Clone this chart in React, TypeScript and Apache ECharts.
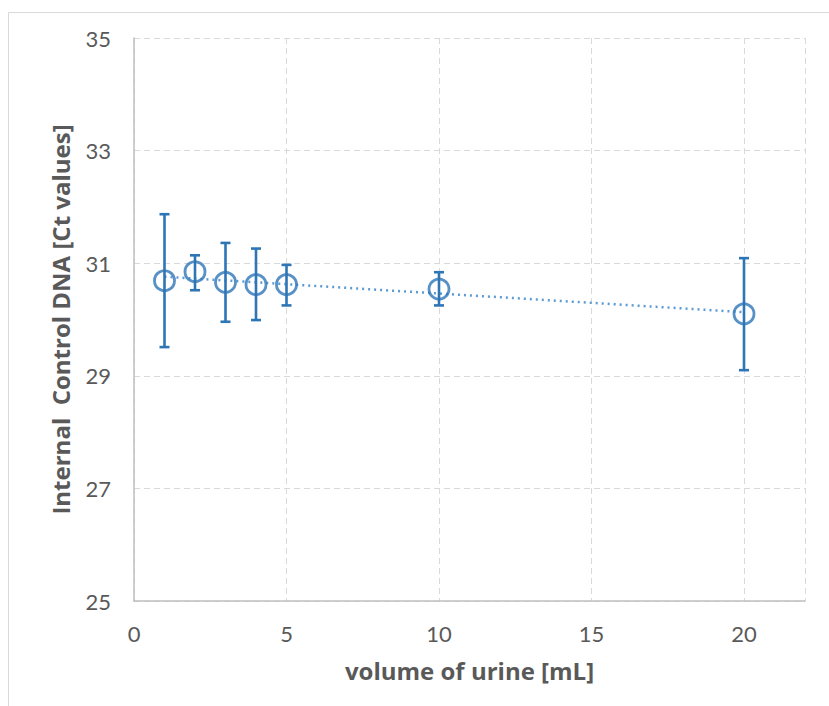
import React, { useEffect, useRef } from "react";
import * as echarts from "echarts";

const volumes = [1, 2, 3, 4, 5, 10, 20];
const ctMeans = [30.69, 30.85, 30.66, 30.62, 30.62, 30.54, 30.1];
const ctUpper = [31.87, 31.14, 31.36, 31.26, 30.97, 30.84, 31.09];
const ctLower = [29.51, 30.52, 29.96, 29.99, 30.25, 30.25, 29.1];
const trendX = [1, 20];
const trendY = [30.76, 30.13];
const xTicks = [0, 5, 10, 15, 20];
const yTicks = [25, 27, 29, 31, 33, 35];

const BLUE = "#2E75B6";
const GRAY_TEXT = "#595959";
const FONT = "Lato, 'Open Sans', sans-serif";
const TITLE_FONT = "'Open Sans', Lato, sans-serif";

export default function App() {
  const ref = useRef<HTMLDivElement>(null);
  useEffect(() => {
    if (!ref.current) return;
    const chart = echarts.init(ref.current, null, { renderer: "svg" });
    const points = volumes.map((v, i) => [v, ctMeans[i]]);
    const errData = volumes.map((v, i) => [v, ctLower[i], ctUpper[i]]);
    const trend = trendX.map((x, i) => [x, trendY[i]]);
    chart.setOption({
      animation: false,
      backgroundColor: "#ffffff",
      graphic: [
        {
          type: "rect",
          shape: { x: 8.5, y: 12.5, width: 840, height: 720 },
          style: { fill: "none", stroke: "#D9D9D9", lineWidth: 1 },
          silent: true,
          z: -1,
        },
      ],
      grid: { left: 134, right: 24, top: 38, bottom: 105 },
      xAxis: {
        type: "value",
        min: 0,
        max: 22,
        interval: 5,
        name: "volume of urine [mL]",
        nameLocation: "middle",
        nameGap: 57,
        nameTextStyle: { color: GRAY_TEXT, fontSize: 24, fontWeight: "bold", fontFamily: TITLE_FONT },
        axisLine: { show: true, lineStyle: { color: "#BFBFBF", width: 1.5 } },
        axisTick: { show: false },
        axisLabel: {
          color: GRAY_TEXT,
          fontSize: 22,
          fontFamily: FONT,
          margin: 21,
          formatter: (v: number) => (xTicks.includes(v) ? String(v) : ""),
        },
        splitLine: { show: true, lineStyle: { color: "#D9D9D9", type: [6, 4], width: 1 } },
      },
      yAxis: {
        type: "value",
        min: 25,
        max: 35,
        interval: 2,
        name: "Internal  Control DNA [Ct values]",
        nameLocation: "middle",
        nameGap: 62,
        nameTextStyle: { color: GRAY_TEXT, fontSize: 24, fontWeight: "bold", fontFamily: TITLE_FONT },
        axisLine: { show: true, lineStyle: { color: "#BFBFBF", width: 1.5 } },
        axisTick: { show: false },
        axisLabel: {
          color: GRAY_TEXT,
          fontSize: 22,
          fontFamily: FONT,
          margin: 23,
          formatter: (v: number) => (yTicks.includes(v) ? String(v) : ""),
        },
        splitLine: { show: true, lineStyle: { color: "#D9D9D9", type: [6, 4], width: 1 } },
      },
      series: [
        {
          type: "line",
          data: trend,
          symbol: "none",
          lineStyle: { color: "#5B9BD5", width: 2.5, type: [2, 4] },
          z: 1,
        },
        {
          type: "custom",
          data: errData,
          z: 2,
          renderItem: (params: any, api: any) => {
            const x = api.value(0);
            const lo = api.coord([x, api.value(1)]);
            const hi = api.coord([x, api.value(2)]);
            const hw = 5;
            const style = { stroke: BLUE, lineWidth: 2.6, fill: "none" };
            return {
              type: "group",
              children: [
                { type: "line", shape: { x1: lo[0], y1: lo[1], x2: hi[0], y2: hi[1] }, style },
                { type: "line", shape: { x1: lo[0] - hw, y1: lo[1], x2: lo[0] + hw, y2: lo[1] }, style },
                { type: "line", shape: { x1: hi[0] - hw, y1: hi[1], x2: hi[0] + hw, y2: hi[1] }, style },
              ],
            };
          },
        },
        {
          type: "scatter",
          data: points,
          symbol: "circle",
          symbolSize: 20,
          itemStyle: { color: "rgba(0,0,0,0)", borderColor: BLUE, borderWidth: 2.8 },
          z: 3,
        },
      ],
    });
    return () => chart.dispose();
  }, []);
  return (
    <div
      ref={ref}
      style={{ position: "fixed", left: 0, top: 0, width: 829, height: 706, background: "#fff" }}
    />
  );
}
